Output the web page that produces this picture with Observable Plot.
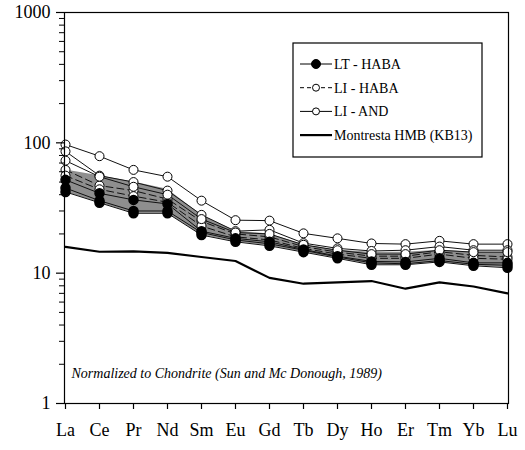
<!DOCTYPE html>
<html>
<head>
<meta charset="utf-8">
<script src="https://cdn.jsdelivr.net/npm/d3@7"></script>
<script src="https://cdn.jsdelivr.net/npm/@observablehq/plot@0.6"></script>
<style>
  html, body { margin: 0; padding: 0; background: white; }
  #chart { width: 525px; height: 450px; }
  #chart svg, #chart svg text { font-family: "Liberation Serif", "Times New Roman", serif !important; }
</style>
</head>
<body>
<div id="chart"></div>
<script>
const elements = ["La","Ce","Pr","Nd","Sm","Eu","Gd","Tb","Dy","Ho","Er","Tm","Yb","Lu"];
const yTicks = [1, 10, 100, 1000];

// LT - HABA (filled circles, solid)
const ltHaba1 = [52, 41, 36.5, 34, 21, 18.5, 17.4, 15.2, 13.5, 12.3, 12.2, 13, 12, 12];
const ltHaba2 = [45, 36, 30, 30, 20.5, 18, 16.8, 15, 13.3, 12, 11.8, 12.5, 11.7, 11.5];
const ltHaba3 = [42, 34.7, 28.8, 28.8, 19.6, 17.4, 16.2, 14.5, 13, 11.6, 11.6, 12.2, 11.4, 11];
// LI - HABA (open circles, dashed)
const liHaba1 = [62, 47, 43, 37, 25, 20, 19, 16, 14.5, 13.5, 13.5, 14.6, 13.7, 13.3];
const liHaba2 = [56, 44, 39, 35, 23, 19, 18, 15.5, 14, 13, 13, 14, 13, 12.8];
// LI - AND (open circles, solid)
const liAnd1 = [97, 79, 62, 55, 36, 25.5, 25.3, 20.2, 18.5, 16.9, 16.7, 17.7, 16.7, 16.7];
const liAnd2 = [86, 56, 50, 43, 28, 21, 21.5, 17, 15.5, 14.8, 15, 16, 15, 15];
const liAnd3 = [73, 55, 46, 40, 26, 20.5, 20, 16.5, 15, 14, 14, 15, 14.5, 14.5];
// Montresta HMB (KB13)
const montresta = [15.9, 14.6, 14.7, 14.3, 13.3, 12.4, 9.2, 8.3, 8.5, 8.7, 7.6, 8.5, 7.9, 7.0];
// shaded field
const fieldLow = [42, 34.7, 28.8, 28.8, 19.6, 17.4, 16.2, 14.5, 13, 11.6, 11.6, 12.2, 11.4, 11];
const fieldHigh = [62, 56, 50, 44, 28, 21, 20, 16.5, 15, 14.5, 14.5, 15, 14.5, 14.5];

const seriesDefs = [
  {name: "LT-HABA 1", group: "LT", values: ltHaba1},
  {name: "LT-HABA 2", group: "LT", values: ltHaba2},
  {name: "LT-HABA 3", group: "LT", values: ltHaba3},
  {name: "LI-HABA 1", group: "LIH", values: liHaba1},
  {name: "LI-HABA 2", group: "LIH", values: liHaba2},
  {name: "LI-AND 1", group: "LIA", values: liAnd1},
  {name: "LI-AND 2", group: "LIA", values: liAnd2},
  {name: "LI-AND 3", group: "LIA", values: liAnd3}
];
const rows = seriesDefs.flatMap(s => s.values.map((v, i) => ({sample: s.name, group: s.group, el: elements[i], v})));
const montRows = montresta.map((v, i) => ({el: elements[i], v}));
const field = elements.map((el, i) => ({el, lo: fieldLow[i], hi: fieldHigh[i]}));

const minor = [];
for (const d of [1, 10, 100]) for (let k = 2; k <= 9; k++) minor.push(d * k);

const serif = "Liberation Serif, Times New Roman, serif";

const plot = Plot.plot({
  width: 525,
  height: 450,
  marginLeft: 64,
  marginRight: 17,
  marginTop: 12,
  marginBottom: 47,
  style: {fontFamily: serif, fontSize: "18px", color: "black", background: "white"},
  x: {type: "point", domain: elements, padding: 0, label: null},
  y: {type: "log", domain: [1, 1000], label: null},
  marks: [
    Plot.areaY(field, {x: "el", y1: "lo", y2: "hi", fill: "#8e8e8e", curve: "linear"}),
    Plot.line(rows.filter(d => d.group !== "LIH"), {x: "el", y: "v", z: "sample", stroke: "#111", strokeWidth: 1}),
    Plot.line(rows.filter(d => d.group === "LIH"), {x: "el", y: "v", z: "sample", stroke: "#111", strokeWidth: 1, strokeDasharray: "7,4"}),
    Plot.line(montRows, {x: "el", y: "v", stroke: "black", strokeWidth: 2.2}),
    Plot.dot(rows.filter(d => d.group !== "LT"), {x: "el", y: "v", r: 4.5, fill: "white", stroke: "black", strokeWidth: 1}),
    Plot.dot(rows.filter(d => d.group === "LT"), {x: "el", y: "v", r: 4.5, fill: "black", stroke: "black"}),
    Plot.frame({stroke: "black", strokeWidth: 1.2}),
    Plot.axisY(yTicks, {tickSize: 8, tickPadding: 6, tickFormat: d => String(d), fontSize: 18, strokeWidth: 1.2, label: null}),
    Plot.axisY(minor, {tickSize: 5, tickFormat: null, text: null, strokeWidth: 1, label: null}),
    Plot.axisX(elements, {tickSize: 6, tickPadding: 14, fontSize: 18, strokeWidth: 1.2, label: null}),
    Plot.text(["Normalized to Chondrite (Sun and Mc Donough, 1989)"], {x: () => "La", y: () => 1.7, text: d => d, textAnchor: "start", dx: 6, fontStyle: "italic", fontSize: 14})
  ]
});

document.getElementById("chart").appendChild(plot);

// legend box
const svg = d3.select(plot);
const lg = svg.append("g").attr("font-family", serif).attr("font-size", 14).attr("text-anchor", "start");
lg.append("rect").attr("x", 293).attr("y", 43).attr("width", 189).attr("height", 114)
  .attr("fill", "white").attr("stroke", "black").attr("stroke-width", 1.2);
const legendItems = [
  {label: "LT - HABA", dash: null, marker: "filled", w: 1},
  {label: "LI - HABA", dash: "4,3", marker: "open", w: 1},
  {label: "LI - AND", dash: null, marker: "open", w: 1},
  {label: "Montresta HMB (KB13)", dash: null, marker: null, w: 2.2}
];
legendItems.forEach((it, i) => {
  const y = 64 + i * 23.7;
  lg.append("line").attr("x1", 300).attr("x2", 332).attr("y1", y).attr("y2", y)
    .attr("stroke", "black").attr("stroke-width", it.w).attr("stroke-dasharray", it.dash);
  if (it.marker) {
    lg.append("circle").attr("cx", 316).attr("cy", y).attr("r", it.marker === "filled" ? 4.5 : 3.5)
      .attr("fill", it.marker === "filled" ? "black" : "white").attr("stroke", "black");
  }
  lg.append("text").attr("x", 334).attr("y", y).attr("dy", "0.35em").attr("text-anchor", "start").text(it.label);
});
</script>
</body>
</html>
